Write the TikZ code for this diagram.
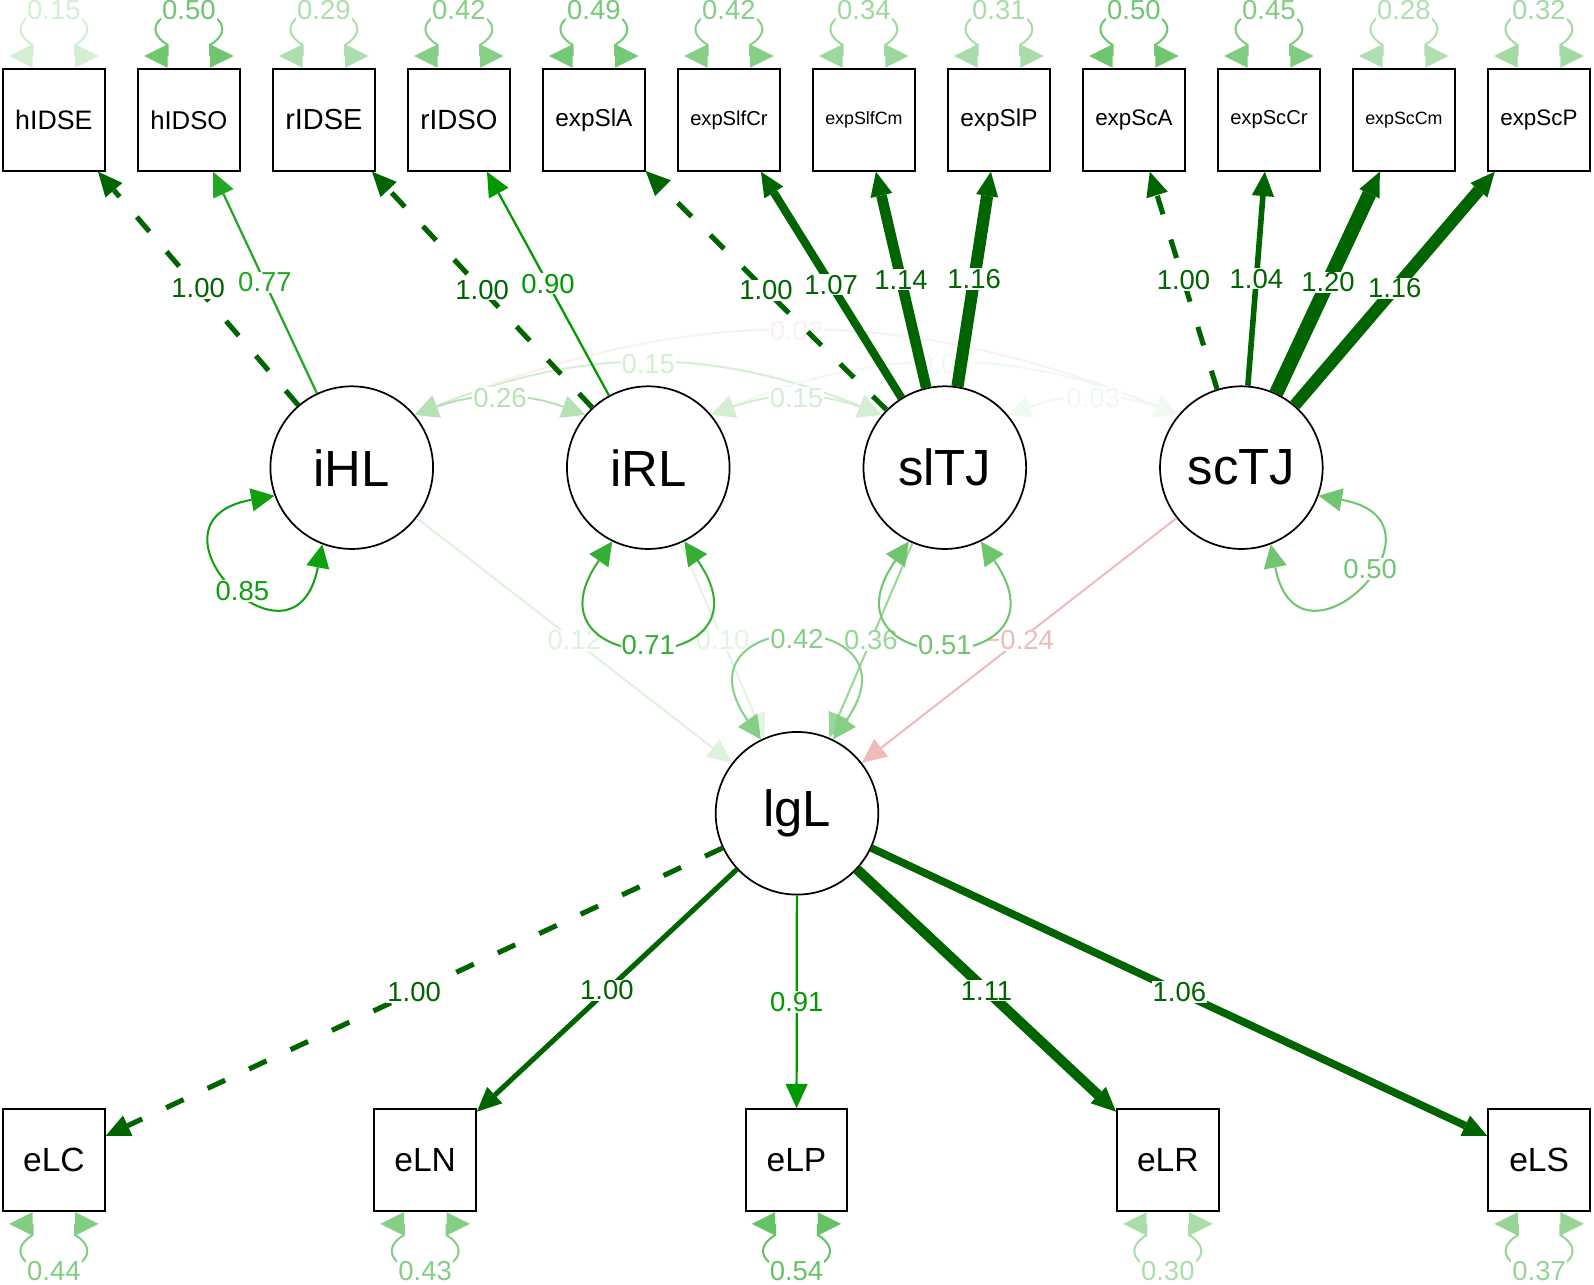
\documentclass[tikz,border=0pt]{standalone}
\usepackage{fontspec}
\setmainfont{Liberation Sans}
\usepackage{xcolor}
\usepackage{graphicx}
\usepackage{tikz}
\usetikzlibrary{arrows.meta, positioning}
\definecolor{darkgr}{HTML}{006400}
\definecolor{posgreen}{HTML}{009900}
\definecolor{negred}{HTML}{BF0000}
\newcommand{\boxtext}[1]{\resizebox{76pt}{!}{#1}}

\begin{document}
\begin{tikzpicture}[
    x=1pt, y=1pt, on grid,
    manifest/.style={rectangle, draw, line width=1.8pt, fill=white, minimum width=100pt, minimum height=100pt, inner sep=0pt, font=\fontsize{33}{36}\selectfont},
    latent/.style={circle, draw, line width=1.7pt, fill=white, minimum size=160pt, inner sep=0pt, font=\fontsize{50}{54}\selectfont},
    lab/.style={fill=white, inner sep=1pt, font=\fontsize{27}{30}\selectfont},
    arrow/.style={-{Triangle[length=24pt, width=22pt, line width=0pt]}, line width=2.2pt},
    biarrow/.style={{Triangle[length=23pt, width=23pt, line width=0pt]}-{Triangle[length=23pt, width=23pt, line width=0pt]}, line width=2pt},
    fixedload/.style={dash pattern=on 19pt off 26pt, line width=5pt},
    pics/topvar/.style 2 args={code={
        \draw[biarrow, color=#2] (-44,12) -- ++(23,0) -- ++(0,11)
            .. controls +(-26,16) and +(-26,0) .. (0,57) node[lab]{#1}
            .. controls +(26,0) and +(26,16) .. (21,23) -- ++(0,-11) -- ++(23,0);
    }},
    pics/botvar/.style 2 args={code={
        \draw[biarrow, color=#2] (-44,-12) -- ++(23,0) -- ++(0,-11)
            .. controls +(-26,-16) and +(-26,0) .. (0,-58) node[lab]{#1}
            .. controls +(26,0) and +(26,-16) .. (21,-23) -- ++(0,11) -- ++(23,0);
    }}
]

\useasboundingbox (0,0) rectangle (1568,-1264);

% Latent variables
\node[latent] (iHL) at (346,-460) {iHL};
\node[latent, right=291.7pt of iHL] (iRL) {iRL};
\node[latent, right=291.7pt of iRL] (slTJ) {slTJ};
\node[latent, right=291.7pt of slTJ] (scTJ) {scTJ};
\node[latent] (lgL) at (784,-800) {lgL};

% Indicators, top row
\node[manifest] (hIDSE) at (53,-118) {\boxtext{hIDSE}};
\node[manifest, right=132.8pt of hIDSE] (hIDSO) {\boxtext{hIDSO}};
\node[manifest, right=132.8pt of hIDSO] (rIDSE) {\boxtext{rIDSE}};
\node[manifest, right=132.8pt of rIDSE] (rIDSO) {\boxtext{rIDSO}};
\node[manifest, right=132.8pt of rIDSO] (expSlA) {\boxtext{expSlA}};
\node[manifest, right=132.8pt of expSlA] (expSlfCr) {\boxtext{expSlfCr}};
\node[manifest, right=132.8pt of expSlfCr] (expSlfCm) {\boxtext{expSlfCm}};
\node[manifest, right=132.8pt of expSlfCm] (expSlP) {\boxtext{expSlP}};
\node[manifest, right=132.8pt of expSlP] (expScA) {\boxtext{expScA}};
\node[manifest, right=132.8pt of expScA] (expScCr) {\boxtext{expScCr}};
\node[manifest, right=132.8pt of expScCr] (expScCm) {\boxtext{expScCm}};
\node[manifest, right=132.8pt of expScCm] (expScP) {\boxtext{expScP}};

% Indicators, bottom row
\node[manifest] (eLC) at (53,-1141) {eLC};
\node[manifest, right=365.25pt of eLC] (eLN) {eLN};
\node[manifest, right=365.25pt of eLN] (eLP) {eLP};
\node[manifest, right=365.25pt of eLP] (eLR) {eLR};
\node[manifest, right=365.25pt of eLR] (eLS) {eLS};

% Covariances
\draw[biarrow, color=negred!6!white] (iHL.40) to[bend left=22] node[lab]{0.02} (scTJ.140);
\draw[biarrow, color=posgreen!17!white] (iHL.40) to[bend left=22] node[lab]{0.15} (slTJ.140);
\draw[biarrow, color=posgreen!6!white] (iRL.40) to[bend left=22] node[lab]{0.04} (scTJ.140);
\draw[biarrow, color=posgreen!29!white] (iHL.40) to[bend left=20] node[lab]{0.26} (iRL.140);
\draw[biarrow, color=posgreen!17!white] (iRL.40) to[bend left=20] node[lab]{0.15} (slTJ.140);
\draw[biarrow, color=posgreen!6!white] (slTJ.40) to[bend left=20] node[lab]{0.03} (scTJ.140);

% Regressions
\draw[arrow, line width=2pt, color=posgreen!13!white] (iHL) -- node[lab]{0.12} (lgL);
\draw[arrow, line width=2pt, color=posgreen!11!white] (iRL) -- node[lab]{0.10} (lgL);
\draw[arrow, line width=2pt, color=posgreen!40!white] (slTJ) -- node[lab]{0.36} (lgL);
\draw[arrow, line width=2pt, color=negred!27!white] (scTJ) -- node[lab]{−0.24} (lgL);

% Latent variances
\draw[biarrow, color=posgreen!94!white] (iHL.200) to[out=190, in=259, looseness=5.5] node[lab, pos=0.55]{0.85} (iHL.249);
\draw[biarrow, color=posgreen!79!white] (iRL.244) to[out=235, in=305, looseness=6] node[lab]{0.71} (iRL.296);
\draw[biarrow, color=posgreen!57!white] (slTJ.244) to[out=235, in=305, looseness=6] node[lab]{0.51} (slTJ.296);
\draw[biarrow, color=posgreen!56!white] (scTJ.340) to[out=350, in=281, looseness=5.5] node[lab, pos=0.42]{0.50} (scTJ.291);
\draw[biarrow, color=posgreen!47!white] (lgL.116) to[out=125, in=55, looseness=5.8] node[lab]{0.42} (lgL.64);

% Residual variances
\pic at (hIDSE.north) {topvar={0.15}{posgreen!17!white}};
\pic at (hIDSO.north) {topvar={0.50}{posgreen!56!white}};
\pic at (rIDSE.north) {topvar={0.29}{posgreen!32!white}};
\pic at (rIDSO.north) {topvar={0.42}{posgreen!47!white}};
\pic at (expSlA.north) {topvar={0.49}{posgreen!54!white}};
\pic at (expSlfCr.north) {topvar={0.42}{posgreen!47!white}};
\pic at (expSlfCm.north) {topvar={0.34}{posgreen!38!white}};
\pic at (expSlP.north) {topvar={0.31}{posgreen!34!white}};
\pic at (expScA.north) {topvar={0.50}{posgreen!56!white}};
\pic at (expScCr.north) {topvar={0.45}{posgreen!50!white}};
\pic at (expScCm.north) {topvar={0.28}{posgreen!31!white}};
\pic at (expScP.north) {topvar={0.32}{posgreen!36!white}};
\pic at (eLC.south) {botvar={0.44}{posgreen!49!white}};
\pic at (eLN.south) {botvar={0.43}{posgreen!48!white}};
\pic at (eLP.south) {botvar={0.54}{posgreen!60!white}};
\pic at (eLR.south) {botvar={0.30}{posgreen!33!white}};
\pic at (eLS.south) {botvar={0.37}{posgreen!41!white}};

% Loadings
\draw[arrow, fixedload, color=darkgr] (iHL) -- node[lab]{1.00} (hIDSE);
\draw[arrow, color=posgreen!86!white] (iHL) -- node[lab]{0.77} (hIDSO);
\draw[arrow, fixedload, color=darkgr] (iRL) -- node[lab]{1.00} (rIDSE);
\draw[arrow, color=posgreen] (iRL) -- node[lab]{0.90} (rIDSO);
\draw[arrow, fixedload, color=darkgr] (slTJ) -- node[lab]{1.00} (expSlA);
\draw[arrow, line width=8pt, color=darkgr] (slTJ) -- node[lab]{1.07} (expSlfCr);
\draw[arrow, line width=10.5pt, color=darkgr] (slTJ) -- node[lab]{1.14} (expSlfCm);
\draw[arrow, line width=12pt, color=darkgr] (slTJ) -- node[lab]{1.16} (expSlP);
\draw[arrow, fixedload, color=darkgr] (scTJ) -- node[lab]{1.00} (expScA);
\draw[arrow, line width=5.5pt, color=darkgr] (scTJ) -- node[lab]{1.04} (expScCr);
\draw[arrow, line width=14pt, color=darkgr] (scTJ) -- node[lab]{1.20} (expScCm);
\draw[arrow, line width=12pt, color=darkgr] (scTJ) -- node[lab]{1.16} (expScP);

\draw[arrow, fixedload, color=darkgr] (lgL) -- node[lab]{1.00} (eLC);
\draw[arrow, line width=5pt, color=darkgr] (lgL) -- node[lab]{1.00} (eLN);
\draw[arrow, color=posgreen] (lgL) -- node[lab]{0.91} (eLP);
\draw[arrow, line width=10pt, color=darkgr] (lgL) -- node[lab]{1.11} (eLR);
\draw[arrow, line width=7.5pt, color=darkgr] (lgL) -- node[lab]{1.06} (eLS);

\end{tikzpicture}
\end{document}
